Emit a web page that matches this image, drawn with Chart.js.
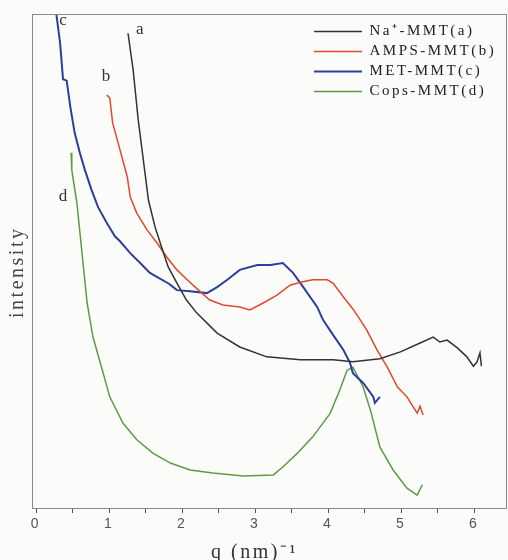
<!DOCTYPE html>
<html>
<head>
<meta charset="utf-8">
<script src="https://cdn.jsdelivr.net/npm/chart.js@4/dist/chart.umd.min.js"></script>
<style>
  html, body { margin: 0; padding: 0; background: #fbfbf9; }
  #wrap { width: 508px; height: 560px; }
</style>
</head>
<body>
<div id="wrap"><canvas id="saxsChart"></canvas></div>
<script>
// values: q in nm^-1, intensity in arbitrary units (0-100)
var naQ = [1.26, 1.33, 1.40, 1.47, 1.54, 1.63, 1.72, 1.81, 1.93, 2.06, 2.20, 2.48, 2.79, 3.16, 3.62, 4.07, 4.34, 4.71, 4.99, 5.26, 5.44, 5.53, 5.63, 5.77, 5.90, 5.99, 6.04, 6.08, 6.10];
var naI = [96.1, 88.7, 78.5, 70.4, 62.3, 56.9, 52.8, 48.8, 45.5, 42.1, 39.5, 35.4, 32.6, 30.6, 30.0, 30.0, 29.6, 30.2, 31.6, 33.4, 34.6, 33.6, 34.0, 32.4, 30.6, 28.7, 29.6, 31.4, 28.7];

var ampsQ = [0.97, 1.01, 1.05, 1.15, 1.25, 1.29, 1.38, 1.52, 1.66, 1.79, 1.93, 2.07, 2.21, 2.38, 2.56, 2.79, 2.93, 3.11, 3.30, 3.48, 3.62, 3.79, 3.99, 4.07, 4.21, 4.34, 4.44, 4.53, 4.67, 4.81, 4.95, 5.08, 5.22, 5.26, 5.30];
var ampsI = [83.6, 83.0, 77.9, 72.5, 67.0, 63.0, 59.7, 56.3, 53.6, 50.8, 48.2, 46.2, 44.3, 42.1, 41.1, 40.7, 40.1, 41.5, 43.1, 45.1, 45.7, 46.2, 46.2, 45.5, 42.7, 40.3, 38.1, 36.0, 32.0, 28.5, 24.5, 22.5, 19.2, 20.6, 18.8];

var metQ = [0.28, 0.33, 0.37, 0.42, 0.47, 0.53, 0.60, 0.67, 0.76, 0.85, 0.97, 1.08, 1.15, 1.29, 1.42, 1.56, 1.82, 1.93, 2.11, 2.34, 2.48, 2.62, 2.79, 3.03, 3.21, 3.38, 3.52, 3.66, 3.85, 3.93, 4.07, 4.21, 4.30, 4.34, 4.48, 4.62, 4.64, 4.71];
var metI = [99.8, 94.1, 86.8, 86.5, 81.2, 75.9, 71.9, 68.4, 64.4, 60.9, 57.7, 55.0, 54.0, 51.6, 49.7, 47.6, 45.4, 44.1, 43.9, 43.5, 44.7, 46.2, 48.2, 49.2, 49.2, 49.6, 47.6, 44.7, 40.7, 38.1, 35.0, 32.0, 29.4, 27.3, 25.3, 22.5, 21.3, 22.5];

var copsQ = [0.48, 0.49, 0.56, 0.63, 0.70, 0.78, 0.88, 1.01, 1.19, 1.38, 1.60, 1.84, 2.11, 2.42, 2.84, 3.25, 3.38, 3.58, 3.79, 4.03, 4.16, 4.26, 4.34, 4.48, 4.58, 4.71, 4.89, 5.08, 5.22, 5.29];
var copsI = [71.9, 68.4, 61.7, 51.6, 41.5, 34.6, 29.4, 22.5, 17.2, 13.8, 11.1, 9.1, 7.7, 7.1, 6.5, 6.7, 8.3, 11.1, 14.4, 19.2, 23.9, 27.9, 28.5, 24.5, 19.8, 12.3, 7.7, 4.0, 2.6, 4.7];

var seriesNames = ['Na\u207A-MMT(a)', 'AMPS-MMT(b)', 'MET-MMT(c)', 'Cops-MMT(d)'];

// curve tags a-d placed next to where each curve starts
var tagText = ['a', 'b', 'c', 'd'];
var tagQ = [1.42, 0.96, 0.37, 0.37];
var tagI = [96.8, 87.4, 98.6, 63.0];

function pts(q, v) {
    return q.map(function(x, i) { return {x: x, y: v[i]}; });
}

var decor = {
    id: 'decor',
    beforeLayout: function(chart) {
        chart.ctx.letterSpacing = '2.5px';
    },
    afterLayout: function(chart) {
        // move the legend into the upper right corner of the plot
        chart.legend.left = 309;
        chart.legend.top = 19;
    },
    beforeDraw: function(chart) {
        var c = chart.ctx;
        c.save();
        c.fillStyle = '#fbfbf9';
        c.fillRect(0, 0, chart.width, chart.height);
        c.restore();
        c.letterSpacing = '2.5px';
    },
    afterDraw: function(chart) {
        var c = chart.ctx;
        var a = chart.chartArea;
        var x = chart.scales.x, y = chart.scales.y;
        c.save();
        c.strokeStyle = '#8a8a8a';
        c.lineWidth = 1;
        c.strokeRect(a.left + 0.5, a.top + 0.5, a.right - a.left - 1, a.bottom - a.top);
        c.fillStyle = '#333';
        c.font = '17px "Liberation Serif"';
        c.textAlign = 'center';
        c.textBaseline = 'middle';
        c.letterSpacing = '0px';
        for (var i = 0; i < tagText.length; i++) {
            c.fillText(tagText[i], x.getPixelForValue(tagQ[i]), y.getPixelForValue(tagI[i]));
        }
        c.restore();
    }
};

var ctx = document.getElementById('saxsChart').getContext('2d');
var chart = new Chart(ctx, {
    type: 'line',
    data: {
        datasets: [
            {
                label: seriesNames[0],
                data: pts(naQ, naI),
                borderColor: '#333333',
                borderWidth: 1.5
            },
            {
                label: seriesNames[1],
                data: pts(ampsQ, ampsI),
                borderColor: '#e5462e',
                borderWidth: 1.5
            },
            {
                label: seriesNames[2],
                data: pts(metQ, metI),
                borderColor: '#2c3f9c',
                borderWidth: 2
            },
            {
                label: seriesNames[3],
                data: pts(copsQ, copsI),
                borderColor: '#5c9c46',
                borderWidth: 1.5
            }
        ]
    },
    options: {
        responsive: true,
        maintainAspectRatio: false,
        animation: false,
        elements: {
            point: { radius: 0 },
            line: { tension: 0, fill: false }
        },
        layout: {
            padding: { top: 14, right: 1, left: 0, bottom: 0 }
        },
        scales: {
            x: {
                type: 'linear',
                min: -0.055,
                max: 6.45,
                afterFit: function(scale) { scale.height = 52; },
                border: { display: false },
                grid: {
                    display: true,
                    drawOnChartArea: false,
                    tickLength: 5,
                    tickColor: '#555'
                },
                ticks: {
                    stepSize: 0.5,
                    includeBounds: false,
                    autoSkip: false,
                    maxRotation: 0,
                    padding: 3,
                    color: '#555',
                    font: { family: '"Liberation Sans"', size: 14 },
                    callback: function(value) {
                        return Math.abs(value - Math.round(value)) < 1e-6 ? Math.round(value) : '';
                    }
                },
                title: {
                    display: true,
                    text: 'q (nm)\u207B\u00B9    ',
                    color: '#333',
                    font: { family: '"Liberation Serif"', size: 20, lineHeight: 1 },
                    padding: { top: 0, bottom: -3 }
                }
            },
            y: {
                min: 0,
                max: 100,
                afterFit: function(scale) { scale.width = 32; },
                border: { display: false },
                grid: { display: false },
                ticks: { display: false },
                title: {
                    display: true,
                    text: 'intensity   ',
                    color: '#444',
                    font: { family: '"Liberation Serif"', size: 20, lineHeight: 1 },
                    padding: { top: 8, bottom: 0 }
                }
            }
        },
        plugins: {
            legend: {
                display: true,
                position: 'chartArea',
                align: 'start',
                labels: {
                    usePointStyle: true,
                    pointStyle: 'line',
                    pointStyleWidth: 48,
                    padding: 5,
                    color: '#222',
                    font: { family: '"Liberation Serif"', size: 15 }
                }
            },
            tooltip: { enabled: false }
        }
    },
    plugins: [decor]
});
</script>
</body>
</html>
